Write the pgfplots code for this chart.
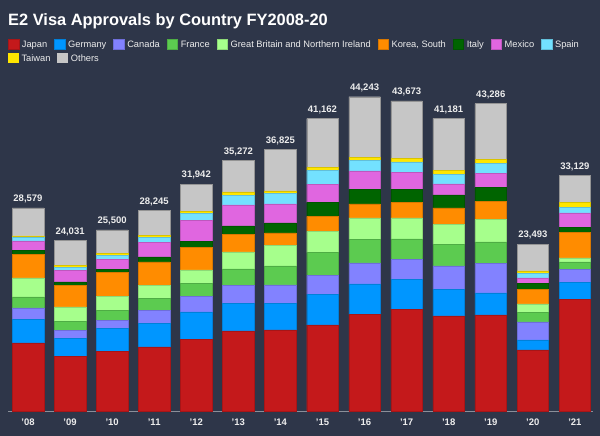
\documentclass[border=0pt]{standalone}
\usepackage{fontspec}
\setmainfont{Liberation Sans}
\usepackage{pgfplots}
\usepackage{pgfplotstable}
\pgfplotsset{compat=1.18}
\definecolor{bgc}{HTML}{2E3649}
\definecolor{cJapan}{HTML}{C4191B}
\definecolor{cGermany}{HTML}{0096FF}
\definecolor{cCanada}{HTML}{8282FF}
\definecolor{cFrance}{HTML}{5CCB50}
\definecolor{cGB}{HTML}{A6FF8C}
\definecolor{cKorea}{HTML}{FF8C00}
\definecolor{cItaly}{HTML}{006400}
\definecolor{cMexico}{HTML}{E066E0}
\definecolor{cSpain}{HTML}{73E1FF}
\definecolor{cTaiwan}{HTML}{FFE600}
\definecolor{cOthers}{HTML}{C6C6C6}
\definecolor{txt}{HTML}{EDEDED}
\definecolor{axl}{HTML}{8A8F99}

\pgfplotstableread{
x Japan Germany Canada France GB Korea Italy Mexico Spain Taiwan Others tot lbl
0 9574 3332 1596 1549 2675 3332 516 1361 469 235 3940 28579 28,579
1 7697 2534 1079 1314 2018 3004 516 1643 422 235 3569 24031 24,031
2 8400 3238 1126 1408 2018 3332 469 1361 563 282 3303 25500 25,500
3 9011 3285 1877 1690 1830 3285 704 2018 704 282 3559 28245 28,245
4 10052 3899 2161 1832 1926 3147 845 3006 939 282 3853 31942 31,942
5 11263 3848 2534 2347 2393 2440 1220 2957 1361 469 4440 35272 35,272
6 11404 3707 2628 2675 2863 1783 1408 2675 1502 329 5851 36825 36,825
7 12108 4318 2675 3191 3004 2112 1971 2534 1971 422 6856 41162 41,162
8 13563 4318 2957 3332 3004 1971 2065 2581 1502 422 8528 44243 44,243
9 14314 4224 2816 2863 2957 2159 1877 2393 1455 516 8099 43673 43,673
10 13375 3707 3332 3050 2769 2347 1830 1549 1361 563 7298 41181 41,181
11 13516 3097 4177 3004 3191 2534 1924 1971 1408 610 7854 43286 43,286
12 8588 1408 2534 1314 1220 2018 892 751 657 329 3782 23493 23,493
13 15722 2393 1830 1032 563 3567 704 2065 798 657 3798 33129 33,129
}\data

\pgfplotsset{
  sqlegend/.style={
    legend image code/.code={\path (-7bp,0) (13.5bp,0);\fill[##1] (0bp,-4.7bp) rectangle (10.5bp,4.7bp);},
  },
  S/.style={fill=#1, draw=#1!85!black, line width=0.4bp, sqlegend},
  mylegend/.style={
    legend columns=-1,
    legend cell align=left,
    legend style={draw=none, fill=none, inner sep=0pt, outer sep=0pt,
      anchor=north west, at={(-0.011966,#1)},
      font=\fontsize{9.3bp}{11bp}\selectfont, text=txt,
      nodes={inner xsep=0pt, inner ysep=0pt, text height=6.7bp, text depth=0bp}},
  },
  base/.style={
    scale only axis, width=585bp, height=331bp,
    at={(8bp,25bp)}, anchor=south west,
  }
}

\begin{document}
\begin{tikzpicture}
\fill[bgc] (0,0) rectangle (600bp,436bp);
\useasboundingbox (0,0) rectangle (600bp,436bp);
\node[anchor=base west, inner sep=0pt, text=white,
  font=\fontsize{16.4bp}{18bp}\selectfont\bfseries] at (8bp,410bp)
  {E2 Visa Approvals by Country FY2008-20};

\begin{axis}[base, mylegend=1.123,
  ybar stacked, bar width=0.75,
  xmin=-0.475, xmax=13.43, ymin=0, ymax=46600,
  axis y line=none, axis x line=bottom,
  x axis line style={draw=axl, line width=0.8bp, -},
  xtick=data, major tick length=0pt,
  xticklabels={'08,'09,'10,'11,'12,'13,'14,'15,'16,'17,'18,'19,'20,'21},
  xticklabel style={anchor=base, yshift=-14bp, text=txt,
    font=\fontsize{9.5bp}{11bp}\selectfont\bfseries},
  clip=false,
]
\addplot[S=cJapan] table[x=x,y=Japan]{\data};
\addplot[S=cGermany] table[x=x,y=Germany]{\data};
\addplot[S=cCanada] table[x=x,y=Canada]{\data};
\addplot[S=cFrance] table[x=x,y=France]{\data};
\addplot[S=cGB] table[x=x,y=GB]{\data};
\addplot[S=cKorea] table[x=x,y=Korea]{\data};
\addplot[S=cItaly] table[x=x,y=Italy]{\data};
\addplot[S=cMexico] table[x=x,y=Mexico]{\data};
\addplot[S=cSpain] table[x=x,y=Spain]{\data};
\addplot[S=cTaiwan] table[x=x,y=Taiwan]{\data};
\addplot[S=cOthers, draw=cOthers!75!black] table[x=x,y=Others]{\data};
\legend{Japan,Germany,Canada,France,Great Britain and Northern Ireland,Korea{,} South,Italy,Mexico,Spain}
\end{axis}

\begin{axis}[base, sqlegend, mylegend=1.0807, hide axis,
  xmin=-0.475, xmax=13.43, ymin=0, ymax=46600, clip=false]
\addlegendimage{fill=cTaiwan, draw=none}
\addlegendentry{Taiwan}
\addlegendimage{fill=cOthers, draw=none}
\addlegendentry{Others}
\addplot[draw=none, mark=none, forget plot,
  point meta=explicit symbolic, nodes near coords,
  every node near coord/.append style={yshift=6bp, text=txt,
    inner sep=0pt, text depth=0bp, font=\fontsize{9.5bp}{11bp}\selectfont\bfseries}]
  table[x=x,y=tot,meta=lbl]{\data};
\end{axis}
\end{tikzpicture}
\end{document}
